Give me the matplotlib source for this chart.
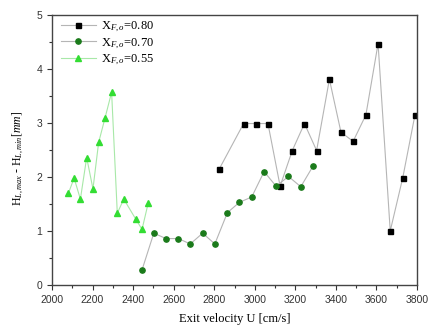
import matplotlib
matplotlib.use("Agg")
import matplotlib.pyplot as plt
from matplotlib.ticker import MultipleLocator

# X_F,o = 0.80
u80 = [2825, 2945, 3005, 3065, 3125, 3185, 3245, 3305, 3368, 3425, 3485, 3548, 3608, 3668, 3730, 3790]
h80 = [2.15, 2.99, 2.99, 2.99, 1.83, 2.49, 2.99, 2.49, 3.81, 2.83, 2.66, 3.15, 4.47, 1.00, 1.99, 3.15]

# X_F,o = 0.70
u70 = [2444, 2502, 2562, 2623, 2682, 2743, 2803, 2865, 2924, 2985, 3046, 3105, 3166, 3227, 3287]
h70 = [0.28, 0.96, 0.86, 0.86, 0.76, 0.96, 0.76, 1.34, 1.53, 1.63, 2.10, 1.83, 2.01, 1.82, 2.20]

# X_F,o = 0.55
u55 = [2081, 2109, 2140, 2171, 2202, 2230, 2262, 2294, 2322, 2354, 2413, 2444, 2474]
h55 = [1.70, 1.98, 1.59, 2.36, 1.78, 2.64, 3.10, 3.57, 1.33, 1.59, 1.22, 1.03, 1.51]

labels = [r"X$_{F,o}$=0.80", r"X$_{F,o}$=0.70", r"X$_{F,o}$=0.55"]
xticks = [2000, 2200, 2400, 2600, 2800, 3000, 3200, 3400, 3600, 3800]
yticks = [0, 1, 2, 3, 4, 5]

plt.rcParams['mathtext.fontset'] = 'custom'
plt.rcParams['mathtext.rm'] = 'Liberation Serif'
plt.rcParams['mathtext.it'] = 'Liberation Serif:italic'

fig = plt.figure(figsize=(4.31, 3.26), dpi=100)
ax = fig.add_axes([52/431, 1-285/326, (417-52)/431, (285-15)/326])

ax.plot(u80, h80, color='#b5b5b5', lw=0.8, marker='s', ms=3.6, mfc='black', mec='black', label=labels[0])
ax.plot(u70, h70, color='#b5b5b5', lw=0.8, marker='o', ms=3.8, mfc='#1a7a1a', mec='#1a7a1a', label=labels[1])
ax.plot(u55, h55, color='#a8e8a8', lw=0.8, marker='^', ms=4.2, mfc='#33dd33', mec='#33dd33', label=labels[2])

ax.set_xlim(2000, 3800)
ax.set_ylim(0, 5)
ax.set_xticks(xticks)
ax.set_yticks(yticks)
ax.xaxis.set_minor_locator(MultipleLocator(100))
ax.yaxis.set_minor_locator(MultipleLocator(0.5))
ax.tick_params(which='both', direction='out', top=False, right=False, labelsize=7.5, colors='#333333')
ax.tick_params(which='major', length=3.5, width=0.8)
ax.tick_params(which='minor', length=2, width=0.8)
for lab in ax.get_xticklabels() + ax.get_yticklabels():
    lab.set_fontfamily('Liberation Sans')
for s in ax.spines.values():
    s.set_color('#444444')
    s.set_linewidth(1.0)

ax.set_xlabel("Exit velocity U [cm/s]", family='Liberation Serif', fontsize=9, labelpad=6)
ax.set_ylabel(r"H$_{L,max}$ - H$_{L,min}$[$mm$]", family='Liberation Serif', fontsize=8.5)
ax.yaxis.set_label_coords(-0.072, 0.47)

leg = ax.legend(loc='upper left', frameon=False, prop={'family': 'Liberation Serif', 'size': 9},
                handlelength=2.8, borderaxespad=0.0, labelspacing=0.2, handletextpad=0.4,
                bbox_to_anchor=(0.01, 1.0))

fig.savefig("out.png", dpi=100)
